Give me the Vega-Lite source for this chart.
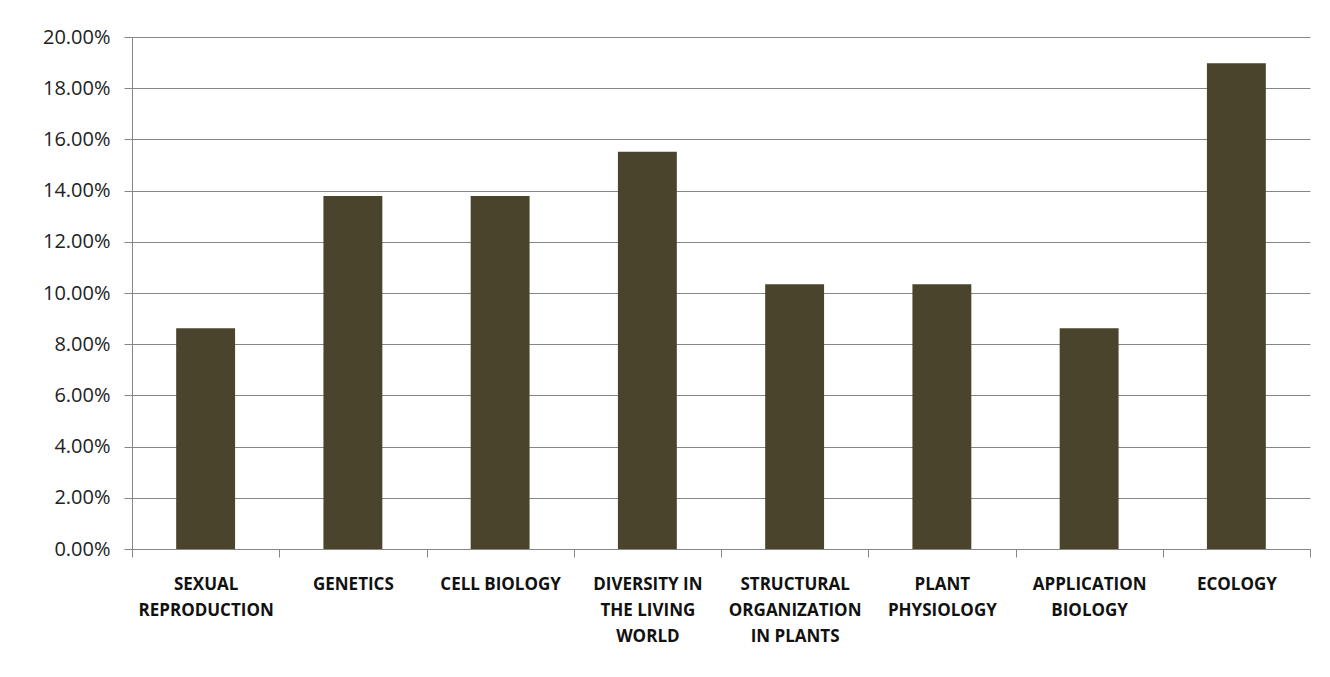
{
  "$schema": "https://vega.github.io/schema/vega-lite/v6.json",
  "autosize": "none",
  "width": 1178,
  "height": 512,
  "padding": {"left": 132, "top": 37, "right": 20, "bottom": 128},
  "background": "white",
  "config": {"view": {"stroke": null}},
  "data": {"values": [
    {"topic": "SEXUAL|REPRODUCTION", "share": 0.0862},
    {"topic": "GENETICS", "share": 0.1379},
    {"topic": "CELL BIOLOGY", "share": 0.1379},
    {"topic": "DIVERSITY IN|THE LIVING|WORLD", "share": 0.1552},
    {"topic": "STRUCTURAL|ORGANIZATION|IN PLANTS", "share": 0.1034},
    {"topic": "PLANT|PHYSIOLOGY", "share": 0.1034},
    {"topic": "APPLICATION|BIOLOGY", "share": 0.0862},
    {"topic": "ECOLOGY", "share": 0.1897}
  ]},
  "mark": {"type": "bar", "color": "#4a442d", "width": {"band": 0.4}},
  "encoding": {
    "x": {
      "field": "topic", "type": "nominal", "sort": null, "title": null,
      "scale": {"paddingInner": 0, "paddingOuter": 0},
      "axis": {
        "labelAngle": 0, "labelExpr": "split(datum.label, '|')",
        "labelFont": "Open Sans", "labelFontWeight": "bold", "labelFontSize": 17, "labelColor": "#111",
        "labelLineHeight": 26, "labelPadding": 19, "labelBaseline": "top",
        "tickBand": "extent", "tickSize": 8, "tickColor": "#868686", "domainColor": "#868686",
        "labelLimit": 200, "grid": false
      }
    },
    "y": {
      "field": "share", "type": "quantitative", "title": null,
      "scale": {"domain": [0, 0.2], "nice": false},
      "axis": {
        "values": [0, 0.02, 0.04, 0.06, 0.08, 0.1, 0.12, 0.14, 0.16, 0.18, 0.2],
        "format": ".2%", "labelFont": "Open Sans", "labelFontSize": 20, "labelColor": "#222",
        "labelPadding": 14, "tickSize": 8, "tickColor": "#868686", "domainColor": "#868686",
        "grid": true, "gridColor": "#868686", "gridOpacity": 1
      }
    }
  }
}
